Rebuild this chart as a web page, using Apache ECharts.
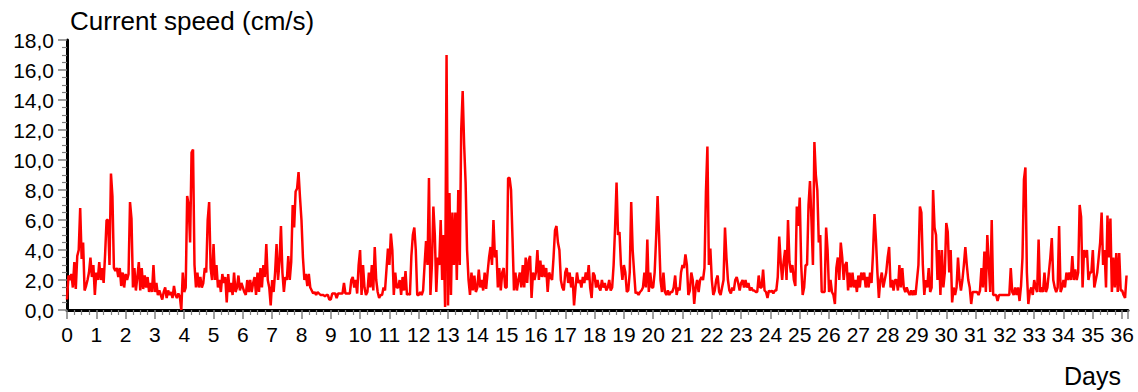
<!DOCTYPE html>
<html>
<head>
<meta charset="utf-8">
<script src="https://cdn.jsdelivr.net/npm/echarts@6/dist/echarts.min.js"></script>
<style>
html,body{margin:0;padding:0;background:#fff;}
#chart{width:1138px;height:392px;}
</style>
</head>
<body>
<div id="chart"></div>
<script>
// Sampling interval of the record (days)
const sampleStepDays = 0.05;

// Current speed (cm/s), one row = one day (20 samples)
const speedDays00to09 = [
  0.7,2.3,2.0,2.4,1.5,3.2,1.4,3.6,4.0,6.8,3.4,4.5,1.3,1.6,2.0,2.5,3.5,2.2,3.0,1.0,
  2.5,2.0,3.2,2.0,2.8,1.8,3.7,6.0,6.0,3.0,9.1,7.6,2.8,2.6,2.8,2.2,2.8,1.6,2.5,1.5,
  2.4,2.0,2.4,7.2,6.1,1.5,2.8,1.3,2.2,3.2,1.3,2.8,1.4,2.3,1.5,2.2,1.2,1.8,1.2,3.0,
  1.2,1.8,1.0,1.3,1.0,0.7,1.2,1.5,0.8,1.3,1.0,1.2,0.8,1.6,1.0,0.8,1.1,0.9,0.0,2.5,
  1.2,1.5,7.6,7.0,4.5,10.5,10.7,3.0,1.5,2.5,1.5,2.2,1.5,1.8,2.8,2.5,6.0,7.2,2.8,2.0,
  4.4,2.0,3.0,1.5,2.0,1.2,2.4,1.8,2.2,0.5,2.4,1.2,1.8,1.0,2.5,1.2,1.5,2.3,1.3,1.8,
  1.5,1.2,1.0,2.0,1.2,2.0,1.2,1.8,2.2,1.0,2.5,1.2,2.8,1.5,3.0,2.2,4.4,2.0,1.5,0.3,
  2.0,1.2,2.5,4.4,2.0,3.2,5.6,2.5,1.2,2.2,2.0,3.6,2.0,3.2,7.0,5.5,7.9,8.1,9.2,7.5,
  6.0,3.5,2.0,2.4,1.6,2.4,1.5,1.3,1.1,1.2,1.0,1.2,1.1,1.0,1.0,1.0,0.9,1.0,1.0,0.7,
  0.7,1.1,1.1,1.1,0.8,1.1,1.1,1.1,1.1,1.8,1.1,1.1,1.1,1.1,2.0,2.2,1.5,2.0,1.1,3.0
];
const speedDays10to19 = [
  4.0,1.0,3.0,1.5,1.0,1.2,2.5,1.5,3.0,1.3,4.2,2.0,1.2,0.8,1.0,1.0,1.5,1.3,2.7,4.1,
  3.0,5.1,4.0,1.0,2.5,1.5,1.5,2.0,1.0,2.2,1.3,2.6,1.0,1.1,1.0,3.6,5.0,5.5,4.0,1.0,
  1.0,1.2,1.0,1.3,3.0,4.6,3.0,8.8,1.0,3.0,6.9,5.0,1.2,3.5,3.0,6.0,2.0,5.0,0.2,17.0,
  0.3,7.8,1.0,6.5,3.0,6.5,2.0,8.0,3.0,12.0,14.6,11.0,8.5,4.0,2.0,1.0,2.5,1.3,2.3,1.2,
  1.5,2.7,1.5,2.0,1.3,2.5,1.4,2.5,3.5,4.2,3.0,6.0,3.5,4.0,1.5,2.8,1.3,2.5,2.8,1.5,
  1.5,8.8,8.8,8.0,4.8,1.3,2.5,1.3,2.0,2.5,1.5,3.0,1.5,3.5,1.8,3.3,3.6,0.8,2.5,2.0,
  2.5,4.0,2.0,3.3,2.2,3.0,2.2,2.8,1.2,2.5,2.2,2.0,3.5,5.3,5.6,4.5,4.0,2.0,1.5,1.3,
  2.5,2.8,1.8,2.5,1.5,2.2,0.3,1.5,2.5,1.8,2.0,1.5,2.2,1.8,2.5,2.0,3.0,1.5,0.8,2.5,
  2.3,1.5,2.0,1.5,1.3,2.0,1.5,1.8,1.3,1.5,2.0,1.3,1.5,3.0,5.5,8.5,5.0,5.2,3.0,2.0,
  3.0,2.5,1.2,1.3,2.5,7.2,4.0,2.5,1.1,1.2,1.0,1.2,1.3,1.5,2.5,1.5,4.7,1.2,2.5,1.5
];
const speedDays20to29 = [
  1.5,2.5,4.8,7.6,5.0,2.0,1.2,2.5,1.2,1.0,1.3,1.0,1.2,1.2,1.5,2.3,1.0,1.5,1.3,2.5,
  3.0,2.8,3.7,3.0,1.0,1.3,2.5,2.0,0.4,1.5,2.0,1.2,2.0,2.2,2.0,2.8,7.9,10.9,3.0,4.1,
  2.0,1.0,1.3,2.0,2.3,1.2,1.0,1.5,2.0,5.5,3.5,2.0,1.3,1.1,1.5,1.3,2.0,2.2,1.8,1.3,
  1.8,2.0,1.5,2.0,1.5,1.8,1.3,1.5,1.3,1.3,1.2,1.2,2.3,1.5,1.5,2.7,1.3,1.2,0.8,1.3,
  1.2,1.3,1.1,1.3,1.3,2.2,4.9,3.2,2.0,3.2,4.0,2.0,6.0,3.2,2.5,3.0,2.0,1.6,6.9,5.6,
  7.5,3.0,1.0,1.5,3.0,3.0,7.0,8.6,6.0,3.0,11.2,9.0,8.0,4.5,5.0,1.2,1.2,1.2,5.5,4.0,
  1.2,2.0,1.2,1.0,0.4,2.8,3.5,2.0,4.5,3.5,2.0,3.0,3.2,1.3,2.5,1.5,2.5,1.5,2.0,1.2,
  2.3,1.5,2.5,2.0,2.5,1.5,2.2,1.5,2.5,1.8,3.8,6.4,4.7,2.5,0.8,2.0,2.5,1.5,2.0,2.5,
  3.5,4.2,1.5,2.0,1.3,2.0,2.0,1.3,3.0,1.5,2.8,1.5,1.2,1.5,1.2,1.0,1.3,1.0,1.3,1.0,
  2.0,3.0,6.9,6.5,3.0,1.0,2.0,1.5,2.8,1.2,1.5,8.0,5.5,5.0,2.0,4.0,1.0,4.0,1.5,2.5
];
const speedDays30to36 = [
  5.8,5.2,2.5,4.0,0.5,1.5,1.0,1.5,3.5,2.0,1.3,2.0,3.0,4.2,3.0,2.0,1.5,0.4,1.2,1.2,
  1.2,1.2,1.0,1.3,2.8,1.5,3.9,1.2,5.0,3.0,1.2,6.0,1.0,1.0,1.0,0.6,1.0,1.0,1.0,1.0,
  1.0,1.0,1.0,1.0,2.8,1.2,1.0,1.5,1.0,1.5,0.6,1.6,3.5,8.7,9.5,2.5,0.4,1.2,1.5,1.0,
  2.0,1.5,1.2,4.7,1.2,1.5,1.2,2.5,1.2,1.5,2.5,3.5,4.8,2.0,1.5,1.2,1.5,5.6,1.2,1.5,
  2.0,1.5,2.5,2.0,2.5,2.0,3.6,2.0,2.7,2.0,2.5,7.0,6.2,1.5,4.0,3.5,4.0,2.0,2.5,2.5,
  4.0,1.5,2.0,2.5,3.5,4.5,6.5,3.0,4.0,1.5,6.3,3.5,6.1,1.2,3.5,1.5,3.8,1.2,3.8,1.3,
  1.3,1.0,0.8,2.3
];

const speed = [].concat(speedDays00to09, speedDays10to19, speedDays20to29, speedDays30to36);
const points = speed.map((v, i) => [Number((i * sampleStepDays).toFixed(2)), v]);

const FONT = "'Liberation Sans', Arial, sans-serif";

const chart = echarts.init(document.getElementById('chart'), null, {renderer: 'svg'});
chart.setOption({
  animation: false,
  backgroundColor: '#ffffff',
  title: [
    {text: 'Current speed (cm/s)', left: 65, top: 3,
     textStyle: {fontFamily: FONT, fontSize: 26, fontWeight: 'normal', color: '#000'}},
    {text: 'Days', right: 12, top: 358,
     textStyle: {fontFamily: FONT, fontSize: 25, fontWeight: 'normal', color: '#000'}}
  ],
  grid: {left: 67, top: 40, width: 1061, height: 270},
  xAxis: {
    type: 'value', min: 0, max: 36.2, interval: 1,
    axisLine: {show: true, onZero: false, lineStyle: {color: '#000', width: 3}},
    axisTick: {show: true, length: 9, lineStyle: {color: '#808080', width: 1.5}},
    minorTick: {show: true, splitNumber: 4, length: 5, lineStyle: {color: '#808080', width: 1.2}},
    splitLine: {show: false},
    axisLabel: {
      margin: 14, fontFamily: FONT, fontSize: 21, color: '#000',
      formatter: v => Number.isInteger(v) ? String(v) : ''
    }
  },
  yAxis: {
    type: 'value', min: 0, max: 18, interval: 2,
    axisLine: {show: true, onZero: false, lineStyle: {color: '#000', width: 3}},
    axisTick: {show: true, length: 9, lineStyle: {color: '#808080', width: 1.5}},
    minorTick: {show: true, splitNumber: 4, length: 5, lineStyle: {color: '#808080', width: 1.2}},
    splitLine: {show: false},
    axisLabel: {
      margin: 13, fontFamily: FONT, fontSize: 21, color: '#000',
      formatter: v => v.toFixed(1).replace('.', ',')
    }
  },
  series: [{
    type: 'line',
    data: points,
    symbol: 'none',
    showSymbol: false,
    sampling: 'none',
    lineStyle: {color: '#ff0000', width: 2.5},
    itemStyle: {color: '#ff0000'},
    z: 1
  }]
});
</script>
</body>
</html>
